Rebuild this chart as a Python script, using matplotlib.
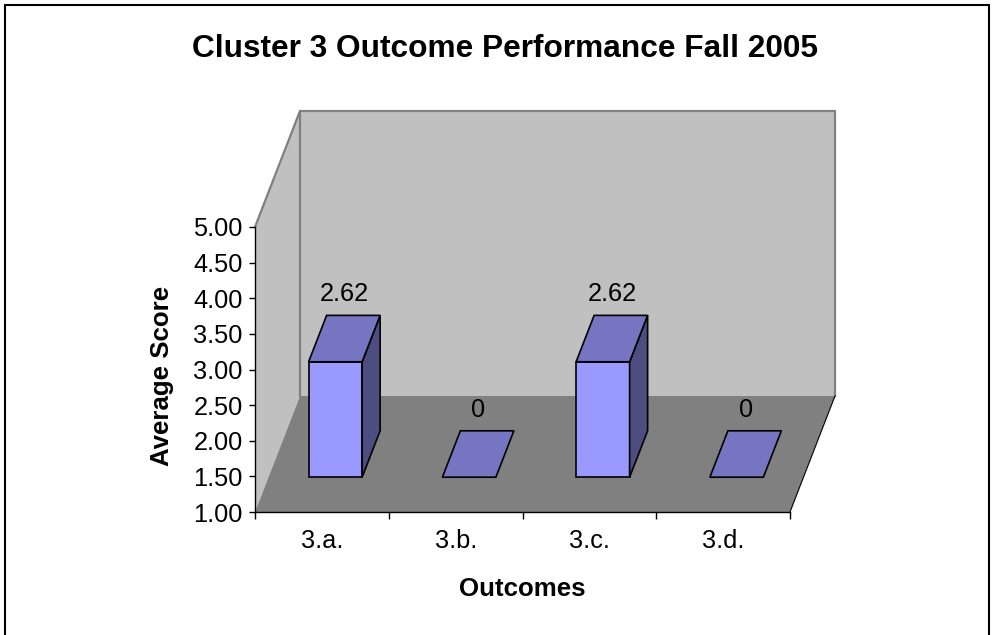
import numpy as np
import matplotlib.pyplot as plt
from matplotlib.patches import Polygon, Rectangle

plt.rcParams['font.family'] = ['Liberation Sans', 'DejaVu Sans']

title = 'Cluster 3 Outcome Performance Fall 2005'
categories = ['3.a.', '3.b.', '3.c.', '3.d.']
scores = [2.62, 0, 2.62, 0]
y_min, y_max, y_step = 1.0, 5.0, 0.5

# depth of the 3d box in data units (x: categories, y: score)
DX, DY = 0.3364, 1.628


def proj(x, y, d):
    return (x + d * DX, y + d * DY)


fig = plt.figure(figsize=(9.94, 6.35), dpi=100)
ax = fig.add_axes([255 / 994, 123 / 635, 535 / 994, 285 / 635])
n = len(categories)
ax.set_xlim(0, n)
ax.set_ylim(y_min, y_max)
ax.patch.set_visible(False)

# walls and floor
left_wall = [proj(0, y_min, 0), proj(0, y_max, 0), proj(0, y_max, 1), proj(0, y_min, 1)]
back_wall = [proj(0, y_min, 1), proj(0, y_max, 1), proj(n, y_max, 1), proj(n, y_min, 1)]
floor = [proj(0, y_min, 0), proj(n, y_min, 0), proj(n, y_min, 1), proj(0, y_min, 1)]
ax.add_patch(Polygon(left_wall, closed=True, fc='#c0c0c0', ec='none', clip_on=False, zorder=1))
ax.add_patch(Polygon(back_wall, closed=True, fc='#c0c0c0', ec='none', clip_on=False, zorder=1))
ax.add_patch(Polygon(floor, closed=True, fc='#808080', ec='none', clip_on=False, zorder=1.2))

# wall outlines
bw = np.array(back_wall)
ax.plot(bw[:, 0], bw[:, 1], color='#808080', lw=1.6, clip_on=False, zorder=1.1)
lw_top = np.array([proj(0, y_max, 0), proj(0, y_max, 1)])
ax.plot(lw_top[:, 0], lw_top[:, 1], color='#808080', lw=1.6, clip_on=False, zorder=1.1)
fr = np.array([proj(n, y_min, 0), proj(n, y_min, 1)])
ax.plot(fr[:, 0], fr[:, 1], color='black', lw=0.8, clip_on=False, zorder=1.3)

# bars
front_c, top_c, side_c = '#9999ff', '#7575c2', '#4d4d80'
for i, v in enumerate(scores):
    top = max(v, y_min)
    x0, x1, d0, d1 = i + 0.3, i + 0.7, 0.3, 0.7
    if top > y_min:
        front = [proj(x0, y_min, d0), proj(x1, y_min, d0), proj(x1, top, d0), proj(x0, top, d0)]
        side = [proj(x1, y_min, d0), proj(x1, y_min, d1), proj(x1, top, d1), proj(x1, top, d0)]
        ax.add_patch(Polygon(front, closed=True, fc=front_c, ec='black', lw=1.2, clip_on=False, zorder=3))
        ax.add_patch(Polygon(side, closed=True, fc=side_c, ec='black', lw=1.2, clip_on=False, zorder=3))
    lid = [proj(x0, top, d0), proj(x1, top, d0), proj(x1, top, d1), proj(x0, top, d1)]
    ax.add_patch(Polygon(lid, closed=True, fc=top_c, ec='black', lw=1.2, clip_on=False, zorder=3))
    ax.annotate('{:g}'.format(v), xy=proj((x0 + x1) / 2, top, 0.5), xytext=(0, 27),
                textcoords='offset points', ha='center', va='baseline', fontsize=18.3)

# axes
for s in ['top', 'right']:
    ax.spines[s].set_visible(False)
ax.spines['left'].set_color('black')
ax.spines['bottom'].set_color('black')
ax.spines['left'].set_linewidth(1)
ax.spines['bottom'].set_linewidth(1)
ax.spines['left'].set_zorder(2)
ax.spines['bottom'].set_zorder(2)

yt = np.arange(y_min, y_max + y_step / 2, y_step)
ax.set_yticks(yt)
ax.set_yticklabels(['%.2f' % t for t in yt], fontsize=18.3)
ax.tick_params(axis='y', direction='out', length=4, width=1, pad=5)

ax.set_xticks(np.arange(n + 1))
ax.set_xticklabels([])
ax.set_xticks(np.arange(n) + 0.5, minor=True)
ax.set_xticklabels(categories, minor=True, fontsize=18.3)
ax.tick_params(axis='x', which='major', direction='out', length=5, width=1)
ax.tick_params(axis='x', which='minor', length=0, pad=12.5)

fig.text(505 / 994, 1 - 57 / 635, title, ha='center', va='baseline',
         fontsize=22.8, fontweight='bold')
fig.text(522 / 994, 1 - 596 / 635, 'Outcomes', ha='center', va='baseline',
         fontsize=18.6, fontweight='bold')
fig.text(162 / 994, 1 - 376 / 635, 'Average Score', rotation=90, ha='center',
         va='center', fontsize=18.6, fontweight='bold')

# outer chart border
fig.add_artist(Rectangle((5 / 994, -0.05), 984 / 994, 1.05 - 5 / 635,
                         transform=fig.transFigure, fill=False, ec='black', lw=1.5))

fig.savefig('out.png', dpi=100)
